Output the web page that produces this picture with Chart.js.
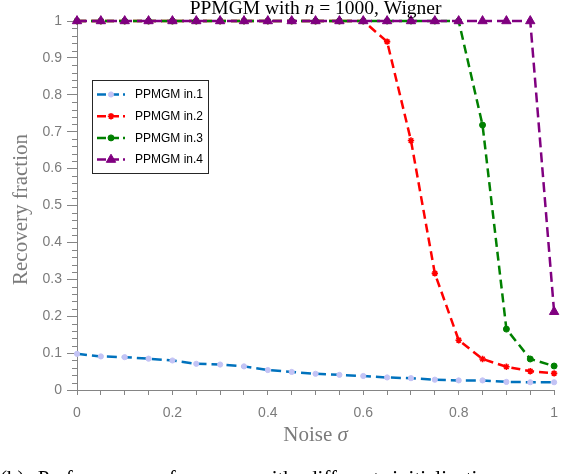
<!DOCTYPE html>
<html><head><meta charset="utf-8">
<script src="https://cdn.jsdelivr.net/npm/chart.js@4.4.0/dist/chart.umd.min.js"></script>
<style>
html,body{margin:0;padding:0;background:#fff;overflow:hidden;}
#wrap{position:relative;width:568px;height:474px;overflow:hidden;background:#fff;}
#caption{position:absolute;left:0px;top:466px;font-family:"Liberation Serif",serif;font-size:21px;word-spacing:8px;white-space:nowrap;color:#000;}
</style></head><body>
<div id="wrap"><canvas id="c" width="568" height="474"></canvas>
<div id="caption">(b) Performance of <span style="font-variant:small-caps">ppmgm</span> with different initialization</div></div>
<script>
// ---- data ----
const sigma = [0,0.05,0.1,0.15,0.2,0.25,0.3,0.35,0.4,0.45,0.5,0.55,0.6,0.65,0.7,0.75,0.8,0.85,0.9,0.95,1];
const in1 = [0.098,0.091,0.089,0.085,0.080,0.071,0.069,0.064,0.054,0.049,0.044,0.041,0.038,0.034,0.032,0.028,0.026,0.026,0.022,0.021,0.021];
const in2 = [1,1,1,1,1,1,1,1,1,1,1,1,1,0.944,0.676,0.316,0.135,0.084,0.063,0.051,0.045];
const in3 = [1,1,1,1,1,1,1,1,1,1,1,1,1,1,1,1,1,0.718,0.165,0.084,0.065];
const in4 = [1,1,1,1,1,1,1,1,1,1,1,1,1,1,1,1,1,1,1,1,0.212];
const seriesNames = ['PPMGM in.1','PPMGM in.2','PPMGM in.3','PPMGM in.4'];
const xTickLabels = ['0','0.2','0.4','0.6','0.8','1'];
const yTickLabels = ['0','0.1','0.2','0.3','0.4','0.5','0.6','0.7','0.8','0.9','1'];
const titleParts = [['PPMGM with ',false],['n',true],[' = 1000, Wigner',false]];
const xTitleParts = [['Noise ',false],['\u03c3',true]];
const yTitle = 'Recovery fraction';

const AXIS = '#858585';
const LABEL = '#7b7b7b';
const SERIF = '"Liberation Serif", "Times New Roman", serif';
const SANS = '"Liberation Sans", Arial, Helvetica, sans-serif';

function pts(ys){ return sigma.map((x,i)=>({x:x,y:ys[i]})); }
function nearLabel(v, step, labels){
  const k = Math.round(v/step);
  if (Math.abs(v/step - k) < 1e-6) { const s = labels[k]; return s===undefined?null:s; }
  return null;
}

const datasets = [
  {label:seriesNames[0], data:pts(in1), borderColor:'#0072BD', backgroundColor:'#C3C3F5',
   pointBackgroundColor:'#C3C3F5', pointBorderColor:'#C3C3F5', pointStyle:'circle', pointRadius:2.6, pointBorderWidth:1,
   borderWidth:2.5, borderDash:[10,5], order:3},
  {label:seriesNames[1], data:pts(in2), borderColor:'#FF0000', backgroundColor:'#FF0000',
   pointBackgroundColor:'#FF0000', pointBorderColor:'#FF0000', pointStyle:'star', pointRadius:3.2, pointBorderWidth:1.6,
   borderWidth:2.5, borderDash:[9,5], order:2},
  {label:seriesNames[2], data:pts(in3), borderColor:'#008000', backgroundColor:'#008000',
   pointBackgroundColor:'#008000', pointBorderColor:'#008000', pointStyle:'circle', pointRadius:3, pointBorderWidth:1,
   borderWidth:2.5, borderDash:[9,5], order:1},
  {label:seriesNames[3], data:pts(in4), borderColor:'#800080', backgroundColor:'#800080',
   pointBackgroundColor:'#800080', pointBorderColor:'#800080', pointStyle:'triangle', pointRadius:5.4, pointBorderWidth:1,
   borderWidth:2.5, borderDash:[10,5], order:0}
];
datasets.forEach(d=>{ d.tension=0; d.fill=false; d.clip=12; d.pointHoverRadius=d.pointRadius; });

const decor = {
  id:'decor',
  beforeDatasetsDraw(chart){
    const ctx = chart.ctx, y = chart.scales.y, ca = chart.chartArea;
    ctx.save();
    ctx.strokeStyle = AXIS; ctx.lineWidth = 1;
    y.ticks.forEach(t=>{
      if (nearLabel(t.value,0.1,yTickLabels)===null){
        const py = Math.round(y.getPixelForValue(t.value))+0.5;
        ctx.beginPath(); ctx.moveTo(ca.left-5, py); ctx.lineTo(ca.left, py); ctx.stroke();
      }
    });
    ctx.restore();
  },
  afterDraw(chart){
    const ctx = chart.ctx, ca = chart.chartArea;
    function mixed(parts, size, cx, by, color){
      let w = 0;
      parts.forEach(p=>{ ctx.font = (p[1]?'italic ':'')+size+'px '+SERIF; w += ctx.measureText(p[0]).width; });
      let x = cx - w/2;
      ctx.fillStyle = color; ctx.textBaseline = 'alphabetic'; ctx.textAlign = 'left';
      parts.forEach(p=>{ ctx.font = (p[1]?'italic ':'')+size+'px '+SERIF; ctx.fillText(p[0], x, by); x += ctx.measureText(p[0]).width; });
    }
    ctx.save();
    mixed(titleParts, 19.5, (ca.left+ca.right)/2, 14, '#000');
    mixed(xTitleParts, 21, (ca.left+ca.right)/2, 441, LABEL);
    ctx.translate(27, (ca.top+ca.bottom)/2 + 4);
    ctx.rotate(-Math.PI/2);
    ctx.font = '21px '+SERIF; ctx.fillStyle = LABEL; ctx.textAlign='center'; ctx.textBaseline='alphabetic';
    ctx.fillText(yTitle, 0, 0);
    ctx.restore();

    // legend
    const bx = 92.5, by = 80.5, bw = 116, bh = 93;
    ctx.save();
    ctx.fillStyle = '#fff'; ctx.fillRect(bx, by, bw, bh);
    ctx.strokeStyle = '#262626'; ctx.lineWidth = 1; ctx.strokeRect(bx, by, bw, bh);
    chart.data.datasets.forEach((d,i)=>{
      const cy = 94.5 + i*21.7;
      ctx.save();
      ctx.strokeStyle = d.borderColor; ctx.lineWidth = d.borderWidth; ctx.setLineDash([9,4]);
      ctx.beginPath(); ctx.moveTo(97, cy); ctx.lineTo(125, cy); ctx.stroke();
      ctx.restore();
      ctx.save();
      ctx.fillStyle = d.pointBackgroundColor; ctx.strokeStyle = d.pointBorderColor;
      ctx.lineWidth = d.pointBorderWidth || 1;
      Chart.helpers.drawPoint(ctx, {pointStyle:d.pointStyle, radius:d.pointRadius, rotation:0, borderWidth:d.pointBorderWidth||1}, 111, cy);
      ctx.restore();
      ctx.fillStyle = '#000'; ctx.font = '12px '+SANS; ctx.textBaseline='middle'; ctx.textAlign='left';
      ctx.fillText(d.label, 135, cy+0.5);
    });
    ctx.restore();
  }
};

new Chart(document.getElementById('c'), {
  type:'line',
  data:{datasets:datasets},
  plugins:[decor],
  options:{
    responsive:false, animation:false, devicePixelRatio:1,
    layout:{padding:{left:0,right:13,top:21,bottom:0}},
    plugins:{legend:{display:false}, title:{display:false}, tooltip:{enabled:false}},
    scales:{
      x:{type:'linear', min:0, max:1,
         afterFit(s){ s.height = 84; },
         border:{display:true, color:AXIS, width:1},
         grid:{display:true, drawOnChartArea:false, drawTicks:true, tickLength:5, color:AXIS, tickColor:AXIS},
         ticks:{stepSize:0.05, autoSkip:false, maxRotation:0, padding:10, color:LABEL,
                font:{family:SANS, size:14},
                callback:(v)=>{ const s = nearLabel(v,0.2,xTickLabels); return s===null?'':s; }}},
      y:{type:'linear', min:0, max:1,
         afterFit(s){ s.width = 77; },
         border:{display:true, color:AXIS, width:1},
         grid:{display:true, drawOnChartArea:false, drawTicks:true, tickLength:10, color:AXIS,
               tickColor:(c)=> (c.tick && nearLabel(c.tick.value,0.1,yTickLabels)!==null) ? AXIS : 'rgba(0,0,0,0)'},
         ticks:{stepSize:0.02, autoSkip:false, padding:5, color:LABEL,
                font:{family:SANS, size:14},
                callback:(v)=>{ const s = nearLabel(v,0.1,yTickLabels); return s===null?'':s; }}}
    }
  }
});
</script>
</body></html>
